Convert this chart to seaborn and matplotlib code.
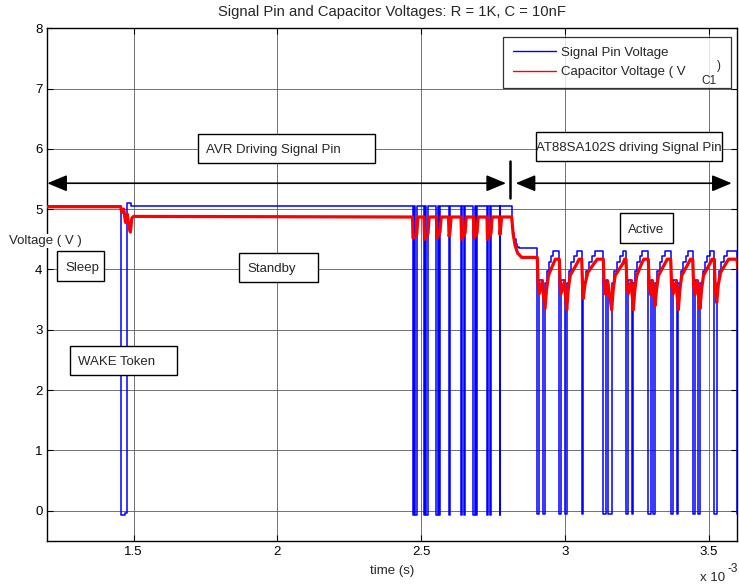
import numpy as np
import pandas as pd
import matplotlib
matplotlib.use("Agg")
import matplotlib.pyplot as plt
import seaborn as sns
from matplotlib.lines import Line2D
from matplotlib.patches import Rectangle, FancyArrowPatch
from matplotlib.ticker import FuncFormatter

# ---------------- data (time in ms, voltage in V) ----------------
signal_t_ms = [
    1.2000, 1.4550, 1.4690, 1.4760, 1.4920,
    2.4703, 2.4745, 2.4790, 2.4849,
    2.5103, 2.5140, 2.5180, 2.5242,
    2.5537, 2.5580, 2.5615, 2.5659,
    2.5955, 2.6007,
    2.6390, 2.6440, 2.6480, 2.6529,
    2.6824, 2.6870, 2.6905, 2.6946,
    2.7294, 2.7340, 2.7385, 2.7433,
    2.7729, 2.7763,
    2.8153, 2.8180, 2.8210, 2.8245, 2.8290, 2.8350, 2.8420,
    2.9043, 2.9113, 2.9231, 2.9311, 2.9370, 2.9440, 2.9510, 2.9590,
    2.9809, 2.9868, 3.0007, 3.0066, 3.0140, 3.0230, 3.0330, 3.0424,
    3.0588, 3.0643, 3.0740, 3.0840, 3.0950, 3.1050,
    3.1339, 3.1433, 3.1513, 3.1631, 3.1720, 3.1820, 3.1920, 3.2024,
    3.2129, 3.2209, 3.2327, 3.2383, 3.2450, 3.2520, 3.2600, 3.2675,
    3.2904, 3.2988, 3.3078, 3.3137, 3.3220, 3.3300, 3.3390, 3.3485,
    3.3683, 3.3774, 3.3892, 3.3948, 3.4030, 3.4120, 3.4210, 3.4296,
    3.4449, 3.4529, 3.4643, 3.4703, 3.4790, 3.4870, 3.4960, 3.5050,
    3.5200, 3.5283, 3.5370, 3.5450, 3.5540, 3.5631,
    3.5990, 3.6200,
]
signal_v = [
    5.05, -0.08, -0.04, 5.10, 5.05,
    -0.08, 5.05, -0.08, 5.05,
    -0.08, 5.05, -0.08, 5.05,
    -0.08, 5.05, -0.08, 5.05,
    -0.08, 5.05,
    -0.08, 5.05, -0.08, 5.05,
    -0.08, 5.05, -0.08, 5.05,
    -0.08, 5.05, -0.08, 5.05,
    -0.08, 5.05,
    4.90, 4.72, 4.60, 4.50, 4.43, 4.38, 4.35,
    -0.06, 3.82, -0.06, 3.78, 3.98, 4.12, 4.22, 4.31,
    -0.06, 3.82, -0.06, 3.78, 3.98, 4.12, 4.22, 4.31,
    -0.06, 3.78, 3.98, 4.12, 4.22, 4.31,
    -0.06, 3.82, -0.06, 3.78, 3.98, 4.12, 4.22, 4.31,
    -0.06, 3.82, -0.06, 3.78, 3.98, 4.12, 4.22, 4.31,
    -0.06, 3.82, -0.06, 3.78, 3.98, 4.12, 4.22, 4.31,
    -0.06, 3.82, -0.06, 3.78, 3.98, 4.12, 4.22, 4.31,
    -0.06, 3.82, -0.06, 3.78, 3.98, 4.12, 4.22, 4.31,
    -0.06, 3.78, 3.98, 4.12, 4.22, 4.31,
    -0.06, -0.06,
]

cap_t_ms = [
    1.2000, 1.4550, 1.4600, 1.4660, 1.4720, 1.4780, 1.4840, 1.4890, 1.4940, 1.5000,
    2.4703, 2.4720, 2.4849, 2.4890,
    2.5103, 2.5120, 2.5242, 2.5280,
    2.5537, 2.5555, 2.5659, 2.5700,
    2.5955, 2.5975, 2.6007, 2.6045,
    2.6390, 2.6410, 2.6529, 2.6570,
    2.6824, 2.6840, 2.6946, 2.6985,
    2.7294, 2.7310, 2.7433, 2.7470,
    2.7729, 2.7745, 2.7763, 2.7800,
    2.8153, 2.8200, 2.8270, 2.8360, 2.8500,
    2.9043, 2.9073, 2.9113, 2.9211, 2.9311, 2.9361, 2.9431, 2.9590, 2.9670,
    2.9809, 2.9839, 2.9868, 2.9987, 3.0066, 3.0116, 3.0186, 3.0424, 3.0500,
    3.0588, 3.0620, 3.0643, 3.0700, 3.0800, 3.1050, 3.1130,
    3.1339, 3.1369, 3.1433, 3.1493, 3.1631, 3.1681, 3.1751, 3.2024, 3.2080,
    3.2129, 3.2159, 3.2209, 3.2307, 3.2383, 3.2433, 3.2503, 3.2675, 3.2750,
    3.2904, 3.2934, 3.2988, 3.3058, 3.3137, 3.3187, 3.3257, 3.3485, 3.3560,
    3.3683, 3.3713, 3.3774, 3.3872, 3.3948, 3.3998, 3.4068, 3.4296, 3.4370,
    3.4449, 3.4479, 3.4529, 3.4623, 3.4703, 3.4753, 3.4823, 3.5050, 3.5120,
    3.5200, 3.5230, 3.5283, 3.5340, 3.5420, 3.5631, 3.5700, 3.5990, 3.6050,
]
cap_v = [
    5.04, 5.04, 4.95, 5.00, 4.78, 4.92, 4.70, 4.62, 4.85, 4.88,
    4.87, 4.52, 4.58, 4.87,
    4.87, 4.50, 4.60, 4.87,
    4.87, 4.52, 4.62, 4.87,
    4.87, 4.55, 4.62, 4.87,
    4.87, 4.50, 4.60, 4.87,
    4.87, 4.52, 4.60, 4.87,
    4.87, 4.50, 4.60, 4.87,
    4.87, 4.58, 4.65, 4.87,
    4.87, 4.60, 4.40, 4.27, 4.20,
    4.20, 3.75, 3.60, 3.80, 3.35, 3.65, 3.90, 4.08, 4.17,
    4.17, 3.75, 3.60, 3.80, 3.33, 3.65, 3.90, 4.10, 4.17,
    4.17, 3.70, 3.52, 3.75, 3.95, 4.12, 4.17,
    4.17, 3.75, 3.58, 3.80, 3.33, 3.65, 3.90, 4.10, 4.17,
    4.17, 3.75, 3.60, 3.80, 3.33, 3.65, 3.90, 4.10, 4.17,
    4.17, 3.75, 3.58, 3.80, 3.40, 3.65, 3.90, 4.10, 4.17,
    4.17, 3.75, 3.60, 3.80, 3.33, 3.65, 3.90, 4.10, 4.17,
    4.17, 3.75, 3.58, 3.80, 3.35, 3.65, 3.90, 4.10, 4.17,
    4.17, 3.70, 3.45, 3.75, 3.95, 4.12, 4.17, 4.17, 3.90,
]

series_names = ["Signal Pin Voltage", "Capacitor Voltage ( V"]
legend_sub = "C1"
legend_close = ")"
title_text = "Signal Pin and Capacitor Voltages: R = 1K, C = 10nF"
x_label = "time (s)"
y_label = "Voltage ( V )"
x_ticks_ms = [1.5, 2.0, 2.5, 3.0, 3.5]
y_ticks = [0, 1, 2, 3, 4, 5, 6, 7, 8]
x_range_ms = [1.2, 3.6]
y_range = [-0.5, 8]

# text boxes: label, (x0, x1, y0, y1) in axes fraction
box_labels = ["AVR Driving Signal Pin", "AT88SA102S driving Signal Pin",
              "Active", "Sleep", "Standby", "WAKE Token"]
box_extents = [(0.2185, 0.4745, 0.7365, 0.7937),
               (0.7087, 0.9774, 0.7416, 0.7970),
               (0.8300, 0.9064, 0.5816, 0.6390),
               (0.0145, 0.0826, 0.5074, 0.5648),
               (0.2783, 0.3919, 0.5049, 0.5609),
               (0.0325, 0.1880, 0.3234, 0.3806)]
arrow_level = 5.43
arrow_spans_ms = [(1.2, 2.7955), (2.8292, 3.5805)]
divider_ms = 2.809
divider_range = (5.18, 5.80)

# ---------------- plotting ----------------
sns.set_theme(style="ticks")
plt.rcParams["font.family"] = ["Liberation Sans", "DejaVu Sans"]

FS = 9.5
W, H = 739, 585
fig = plt.figure(figsize=(7.39, 5.85), dpi=100)
fig.patch.set_facecolor("white")
ax = fig.add_axes([0.0640, 0.0757, 0.9337, 0.8759])

sig = pd.DataFrame({"t": np.array(signal_t_ms) * 1e-3, "v": signal_v})
cap = pd.DataFrame({"t": np.array(cap_t_ms) * 1e-3, "v": cap_v})

sns.lineplot(data=sig, x="t", y="v", color=(0, 0, 1), lw=1.1, drawstyle="steps-post",
             sort=False, estimator=None, ax=ax, legend=False, zorder=3)
sns.lineplot(data=cap, x="t", y="v", color=(1, 0, 0), lw=2.3,
             sort=False, estimator=None, ax=ax, legend=False, zorder=4)

ax.set_xlim(x_range_ms[0] * 1e-3, x_range_ms[1] * 1e-3)
ax.set_ylim(*y_range)
ax.set_xticks(np.array(x_ticks_ms) * 1e-3)
ax.set_yticks(y_ticks)
ax.xaxis.set_major_formatter(FuncFormatter(lambda v, p: f"{v * 1e3:g}"))
ax.set_xlabel("")
ax.set_ylabel("")
ax.grid(True, color="0.35", lw=0.6)
ax.set_axisbelow(True)
for s in ax.spines.values():
    s.set_visible(True)
    s.set_color("black")
    s.set_linewidth(1.0)
ax.tick_params(direction="in", length=4.5, width=0.8, labelsize=FS, pad=3.5,
               top=True, right=True, colors="black")

# legend (expanded to the reference box width)
handles = [Line2D([], [], color=(0, 0, 1), lw=1.0), Line2D([], [], color=(1, 0, 0), lw=1.0)]
leg = ax.legend(handles, series_names, loc="upper left",
                bbox_to_anchor=(0.6609, 0.8874, 0.3295, 0.0950), mode="expand",
                fontsize=FS, frameon=True, fancybox=False, borderaxespad=0,
                handlelength=3.3, handletextpad=0.35, borderpad=0.7, labelspacing=0.55)
leg.get_frame().set_edgecolor("black")
leg.get_frame().set_linewidth(0.9)
leg.set_zorder(10)
fig.text(709 / W, 1 - 81 / H, legend_sub, ha="center", va="center", fontsize=8.5, zorder=21)
fig.text(719 / W, 1 - 66 / H, legend_close, ha="center", va="center", fontsize=8.5, zorder=21)

# text boxes
for lab, (x0, x1, y0, y1) in zip(box_labels, box_extents):
    ax.add_patch(Rectangle((x0, y0), x1 - x0, y1 - y0, transform=ax.transAxes,
                           facecolor="white", edgecolor="black", lw=1.0, zorder=6))
    ax.text(x0 + 0.0116 if lab != "AT88SA102S driving Signal Pin" else x0 - 0.001,
            (y0 + y1) / 2 - 0.003, lab, transform=ax.transAxes, fontsize=FS,
            ha="left", va="center", zorder=7)

# arrows
for a, b in arrow_spans_ms:
    ax.add_patch(FancyArrowPatch((a * 1e-3, arrow_level), (b * 1e-3, arrow_level),
                                 arrowstyle="<|-|>,head_length=1.2,head_width=0.5",
                                 mutation_scale=10, color="black", lw=1.2,
                                 shrinkA=0, shrinkB=0, zorder=6))
ax.plot([divider_ms * 1e-3] * 2, list(divider_range), color="black", lw=1.8, zorder=6)

# titles and labels
fig.text(392 / W, 1 - 11.7 / H, title_text, ha="center", va="center", fontsize=10.6)
fig.text(392 / W, 1 - 571 / H, x_label, ha="center", va="center", fontsize=FS)
fig.text(9 / W, 1 - 241 / H, y_label, ha="left", va="center", fontsize=FS,
         bbox=dict(facecolor="white", edgecolor="none", pad=0.5), zorder=20)
fig.text(700 / W, 1 - 578 / H, "x 10", ha="left", va="center", fontsize=FS)
fig.text(727 / W, 1 - 569 / H, "-3", ha="left", va="center", fontsize=FS - 1)

fig.savefig("out.png", dpi=100)
